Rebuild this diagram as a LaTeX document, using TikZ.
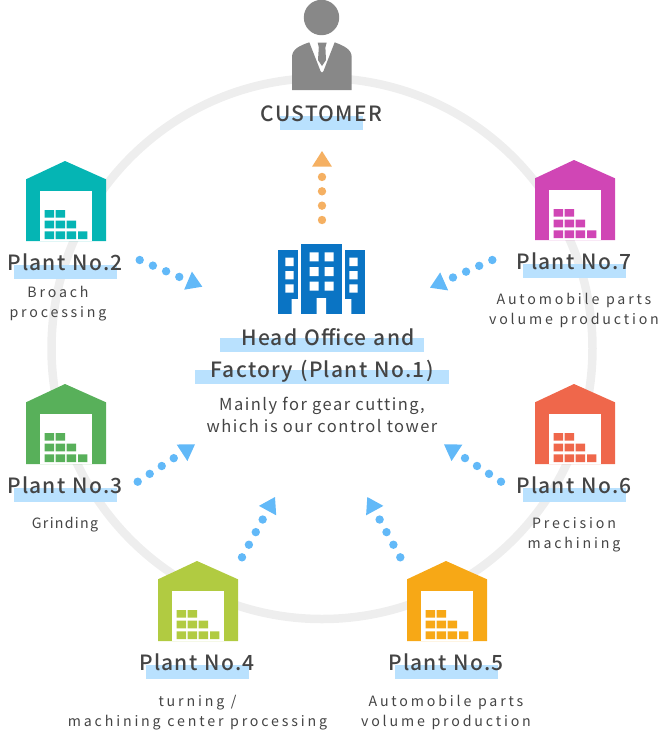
\documentclass[tikz,border=0pt]{standalone}
\usepackage{fontspec}
\usepackage{xcolor}
\usepackage{tikz}
\usetikzlibrary{arrows.meta, positioning}
\setmainfont{Noto Sans CJK JP}
\newfontfamily\titlefont[LetterSpace=6,WordSpace=1.2]{Noto Sans CJK JP Medium}
\newfontfamily\leadfont[LetterSpace=9,WordSpace=1.15]{Noto Sans CJK JP}
\newfontfamily\notefont[LetterSpace=20,WordSpace=1.1]{Noto Sans CJK JP}
\newfontfamily\tightnotefont[LetterSpace=9]{Noto Sans CJK JP}
\definecolor{ringgray}{HTML}{EEEEEE}
\definecolor{barblue}{HTML}{B9E1FE}
\definecolor{dotblue}{HTML}{62B9F8}
\definecolor{dotorange}{HTML}{F5B062}
\definecolor{personGray}{HTML}{888888}
\definecolor{inkgray}{HTML}{444444}
\definecolor{officeblue}{HTML}{0A74C4}
\definecolor{planttwo}{HTML}{05B5B4}
\definecolor{plantthree}{HTML}{58B05A}
\definecolor{plantfour}{HTML}{B1CB41}
\definecolor{plantfive}{HTML}{F7A816}
\definecolor{plantsix}{HTML}{EF674B}
\definecolor{plantseven}{HTML}{D046B5}

\begin{document}
\begin{tikzpicture}[
  x=1pt, y=-1pt,
  bar/.style      = {rectangle, fill=barblue, inner sep=0pt, minimum height=14pt},
  plantname/.style = {anchor=base, inner sep=0pt, text=inkgray,
                      font=\titlefont\fontsize{21}{24}\selectfont},
  lead/.style     = {anchor=base, inner sep=0pt, text=inkgray, align=center,
                     font=\leadfont\fontsize{16.5}{22}\selectfont},
  note/.style     = {anchor=base, inner sep=0pt, text=inkgray, align=center,
                     font=\notefont\fontsize{14.2}{20}\selectfont},
  dotarrow/.style = {line width=8.4pt, line cap=round, dash pattern=on 0pt off 14.35pt,
                     -{Triangle[length=15.5pt, width=19.7pt, line width=0pt]}},
  shed/.pic = {
    \path[pic actions] (0,18.3) -- (39,0) -- (80,18.3) -- (80,80) -- (0,80) -- cycle;
    \fill[white] (14.3,30.3) rectangle (65.7,80);
    \path[pic actions]
      (18.7,49) rectangle ++(9.3,7.6) (29.7,49) rectangle ++(9.3,7.6)
      (18.7,59.7) rectangle ++(9.3,7.6) (29.7,59.7) rectangle ++(9.3,7.6)
      (40.7,59.7) rectangle ++(9.3,7.6)
      (18.7,70.4) rectangle ++(9.3,7.6) (29.7,70.4) rectangle ++(9.3,7.6)
      (40.7,70.4) rectangle ++(9.3,7.6) (52,70.4) rectangle ++(9.3,7.6);
  }
]
\useasboundingbox (0,0) rectangle (663,740);

%% Ring
\draw[ringgray, line width=8.5pt] (322,348.5) circle [radius=270.5];

%% Customer
\fill[personGray] (321.5,17.5) circle [radius=17.7];
\fill[personGray] (292,90) -- (292,57) .. controls (292,49) and (300,45.5) .. (309.3,42.3)
  -- (320.5,71) .. controls (321.2,73) and (322.8,73) .. (323.5,71) -- (334.7,42.3)
  .. controls (343,45.5) and (351.7,49) .. (351.7,57) -- (351.7,90) -- cycle;
\fill[personGray] (317.7,42.5) -- (326.7,42.5) -- (325.4,47.5) -- (326,60) -- (322,66)
  -- (318,60) -- (318.8,47.5) -- cycle;
\node[bar, minimum width=83pt] (customerbar) at (321.5,123) {};
\node[plantname] (customer) at (321.5,121.2) {CUSTOMER};

%% Head office
\fill[officeblue] (278,250) rectangle (298,314);
\fill[officeblue] (301.3,244) rectangle (341.7,314);
\fill[officeblue] (345,250) rectangle (365,314);
\fill[white]
  (291.7,299) rectangle (298,314) (345,299) rectangle (351.3,314)
  (316.7,298) rectangle (326,314)
  (285.3,257.7) rectangle ++(8.4,8.4) (285.3,271) rectangle ++(8.4,8.4)
  (285.3,284.3) rectangle ++(8.4,8.4)
  (349.3,257.7) rectangle ++(8.4,8.4) (349.3,271) rectangle ++(8.4,8.4)
  (349.3,284.3) rectangle ++(8.4,8.4)
  (309.7,252.3) rectangle ++(9,9) (324.7,252.3) rectangle ++(9,9)
  (309.7,267) rectangle ++(9,9) (324.7,267) rectangle ++(9,9)
  (309.7,281.7) rectangle ++(9,9) (324.7,281.7) rectangle ++(9,9);
\node[bar, minimum width=204pt] (officebarA) at (322,345) {};
\node[bar, minimum width=254pt] (officebarB) at (322,377) {};
\node[plantname] (officeA) at (328,345.5) {Head Office and};
\node[plantname] (officeB) at (322,377.5) {Factory (Plant No.1)};
\node[lead] (officenote) at (322,432) {Mainly for gear cutting,\\which is our control tower};

%% Plants
\pic[fill=planttwo] at (26,161) {shed};
\node[bar, minimum width=103pt] (bartwo) at (65.5,272) {};
\node[plantname] (nametwo) at (65,270.2) {Plant No.2};
\node[note] (notetwo) at (58,317.4) {Broach\\processing};

\pic[fill=plantthree] at (26,384) {shed};
\node[bar, minimum width=103pt] (barthree) at (65.5,495) {};
\node[plantname] (namethree) at (65,493.2) {Plant No.3};
\node[note, font=\tightnotefont\fontsize{14.2}{20}\selectfont] (notethree) at (65,528.4) {Grinding};

\pic[fill=plantfour] at (158,561) {shed};
\node[bar, minimum width=103pt] (barfour) at (197.5,672) {};
\node[plantname] (namefour) at (197,670.2) {Plant No.4};
\node[note] (notefour) at (197.5,726.4) {turning /\\machining center processing};

\pic[fill=plantfive] at (407,561) {shed};
\node[bar, minimum width=103pt] (barfive) at (446.5,672) {};
\node[plantname] (namefive) at (446,670.2) {Plant No.5};
\node[note] (notefive) at (446,726.4) {Automobile parts\\volume production};

\pic[fill=plantsix] at (535,384) {shed};
\node[bar, minimum width=103pt] (barsix) at (574.5,495) {};
\node[plantname] (namesix) at (574,493.2) {Plant No.6};
\node[note] (notesix) at (574,548.4) {Precision\\machining};

\pic[fill=plantseven] at (535,160) {shed};
\node[bar, minimum width=103pt] (barseven) at (574.5,271) {};
\node[plantname] (nameseven) at (574,269.7) {Plant No.7};
\node[note] (noteseven) at (574,324.7) {Automobile parts\\volume production};

%% Arrow ends
\coordinate (fromoffice) at (322,220);
\coordinate (tocustomer) at (322,151);
\coordinate (fromtwo) at (139.7,260);
\coordinate (totwo) at (202.3,286.7);
\coordinate (fromthree) at (137.7,481.7);
\coordinate (tothree) at (195,444.3);
\coordinate (fromfour) at (242,557.3);
\coordinate (tofour) at (275,497);
\coordinate (fromfive) at (400.3,557.3);
\coordinate (tofive) at (367.3,497);
\coordinate (fromsix) at (501,481.7);
\coordinate (tosix) at (444,444.3);
\coordinate (fromseven) at (492.3,260);
\coordinate (toseven) at (430,287.7);

%% Arrows
\draw[dotarrow, dotorange] (fromoffice) -- (tocustomer);
\draw[dotarrow, dotblue] (fromtwo) -- (totwo);
\draw[dotarrow, dotblue] (fromthree) -- (tothree);
\draw[dotarrow, dotblue] (fromfour) -- (tofour);
\draw[dotarrow, dotblue] (fromfive) -- (tofive);
\draw[dotarrow, dotblue] (fromsix) -- (tosix);
\draw[dotarrow, dotblue] (fromseven) -- (toseven);

\end{tikzpicture}
\end{document}
